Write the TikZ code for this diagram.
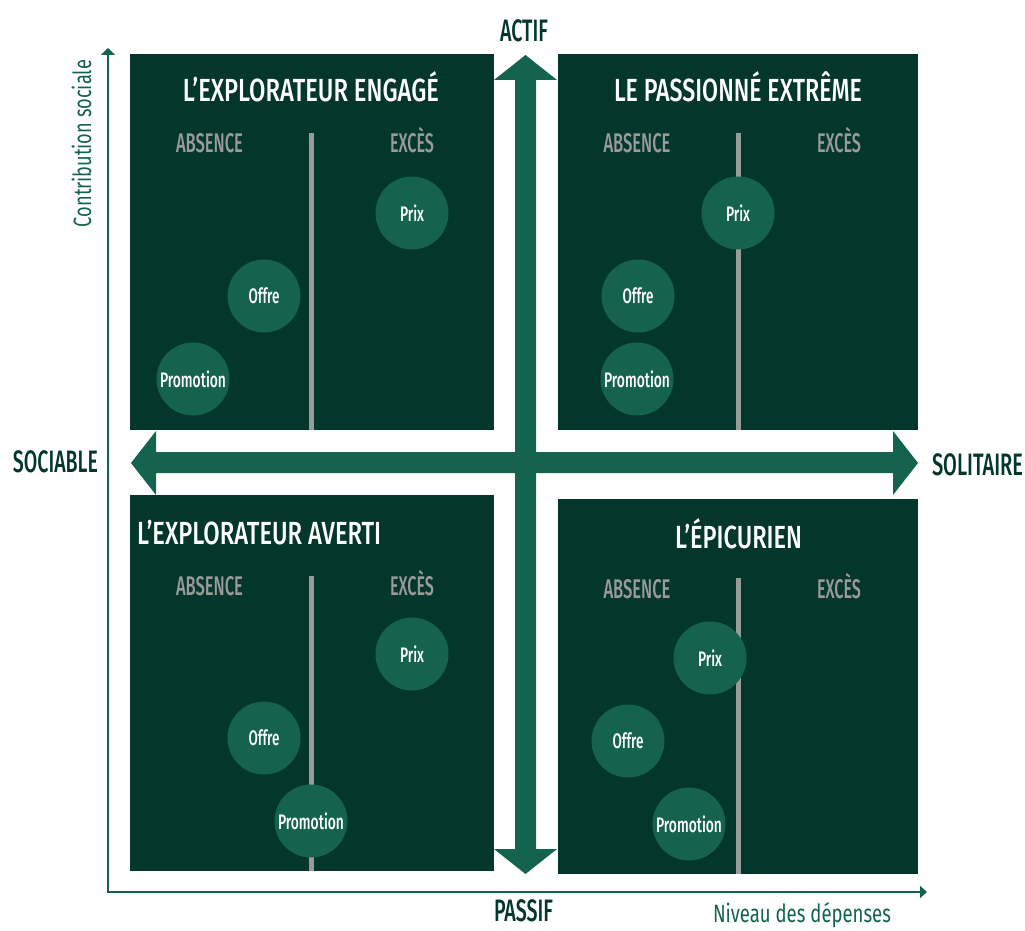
\documentclass[tikz,border=0pt]{standalone}
\usepackage{graphicx}
\usepackage{fontspec}
\setmainfont{Fira Sans}
\newfontfamily\mediumfont{Fira Sans Medium}
\usetikzlibrary{arrows.meta}
\definecolor{boxc}{HTML}{03372B}
\definecolor{arrc}{HTML}{14634E}
\definecolor{bubc}{HTML}{15634F}
\definecolor{grayc}{HTML}{9A9A9A}
\definecolor{darkc}{HTML}{03372B}
\newcommand\fitw[2]{\resizebox{#1}{\height}{#2}}
\begin{document}
\begin{tikzpicture}[x=1pt,y=-1pt,
  quad/.style={rectangle, fill=boxc, draw=none, inner sep=0pt, anchor=north west},
  divider/.style={draw=grayc, line width=5pt},
  bubble/.style={circle, fill=bubc, draw=none, minimum size=73pt, inner sep=0pt, text=white,
    font=\mediumfont\fontsize{21pt}{21pt}\selectfont},
  qtitle/.style={text=white, inner sep=0pt, anchor=base, font=\mediumfont\fontsize{32pt}{32pt}\selectfont},
  sublabel/.style={text=grayc, inner sep=0pt, anchor=base, font=\mediumfont\fontsize{27pt}{27pt}\selectfont},
  polelabel/.style={text=darkc, inner sep=0pt, anchor=base, font=\mediumfont\fontsize{31pt}{31pt}\selectfont},
  axislabel/.style={text=arrc, inner sep=0pt, anchor=base, font=\fontsize{25pt}{25pt}\selectfont},
  bigarrow/.style={fill=arrc, draw=none},
  axisline/.style={draw=arrc, line width=2pt, {Triangle[width=14pt,length=7pt]}-{Triangle[width=12pt,length=7pt]}}
]
\useasboundingbox (0,0) rectangle (1025,931);
\fill[white] (0,0) rectangle (1025,931);

% quadrants
\node[quad, minimum width=364pt, minimum height=376pt] (q1) at (130,54) {};
\node[quad, minimum width=360pt, minimum height=376pt] (q2) at (558,54) {};
\node[quad, minimum width=364pt, minimum height=376pt] (q3) at (130,495) {};
\node[quad, minimum width=360pt, minimum height=375pt] (q4) at (558,499) {};

% dividers
\draw[divider] (311,133) -- (311,430);
\draw[divider] (738,133) -- (738,430);
\draw[divider] (311,576) -- (311,871);
\draw[divider] (738,578) -- (738,874);

% big arrows
\fill[bigarrow] (525.5,55) -- (557,80) -- (536,80) -- (536,849) -- (557,849) -- (525.5,874)
  -- (494,849) -- (515,849) -- (515,80) -- (494,80) -- cycle;
\fill[bigarrow] (131,463) -- (156,431) -- (156,452) -- (893,452) -- (893,431) -- (918,463)
  -- (893,495) -- (893,473) -- (156,473) -- (156,495) -- cycle;

% axes
\coordinate (ytop) at (108,48);
\coordinate (origin) at (108,892);
\coordinate (xend) at (927,892);
\draw[axisline] (ytop) -- (origin) -- (xend);

% titles
\node[qtitle] (t1) at (311,102) {\fitw{256pt}{L’EXPLORATEUR ENGAGÉ}};
\node[qtitle] (t2) at (738,102) {\fitw{248pt}{LE PASSIONNÉ EXTRÊME}};
\node[qtitle, anchor=base west] (t3) at (137,544) {\fitw{244pt}{L’EXPLORATEUR AVERTI}};
\node[qtitle] (t4) at (738.5,548) {\fitw{127pt}{L’ÉPICURIEN}};

% sub labels
\node[sublabel] (a1) at (209.5,153) {\fitw{67pt}{ABSENCE}};
\node[sublabel] (e1) at (412,153) {\fitw{44pt}{EXCÈS}};
\node[sublabel] (a2) at (637,153) {\fitw{67pt}{ABSENCE}};
\node[sublabel] (e2) at (839,153) {\fitw{44pt}{EXCÈS}};
\node[sublabel] (a3) at (209.5,595) {\fitw{67pt}{ABSENCE}};
\node[sublabel] (e3) at (412,595) {\fitw{44pt}{EXCÈS}};
\node[sublabel] (a4) at (637,598) {\fitw{67pt}{ABSENCE}};
\node[sublabel] (e4) at (839,598) {\fitw{44pt}{EXCÈS}};

% bubbles
\node[bubble] (p1) at (412,213) {\fitw{24pt}{Prix}};
\node[bubble] (o1) at (264,296) {\fitw{31pt}{Offre}};
\node[bubble] (m1) at (193,379) {\fitw{66pt}{Promotion}};
\node[bubble] (p2) at (738,213) {\fitw{24pt}{Prix}};
\node[bubble] (o2) at (638,296) {\fitw{31pt}{Offre}};
\node[bubble] (m2) at (637,379) {\fitw{66pt}{Promotion}};
\node[bubble] (p3) at (412,654) {\fitw{24pt}{Prix}};
\node[bubble] (o3) at (264,738) {\fitw{31pt}{Offre}};
\node[bubble] (m3) at (311,821) {\fitw{66pt}{Promotion}};
\node[bubble] (p4) at (710,658) {\fitw{24pt}{Prix}};
\node[bubble] (o4) at (628,741) {\fitw{31pt}{Offre}};
\node[bubble] (m4) at (689,824) {\fitw{66pt}{Promotion}};

% pole labels
\node[polelabel] (actif) at (524,42) {\fitw{48pt}{ACTIF}};
\node[polelabel] (passif) at (523.5,921) {\fitw{59pt}{PASSIF}};
\node[polelabel] (sociable) at (55.5,472) {\fitw{85pt}{SOCIABLE}};
\node[polelabel] (solitaire) at (977.5,475) {\fitw{91pt}{SOLITAIRE}};

% axis labels
\node[axislabel, rotate=90] (ylab) at (91,143.5) {\fitw{167pt}{Contribution sociale}};
\node[axislabel] (xlab) at (802,922) {\fitw{178pt}{Niveau des dépenses}};
\end{tikzpicture}
\end{document}
